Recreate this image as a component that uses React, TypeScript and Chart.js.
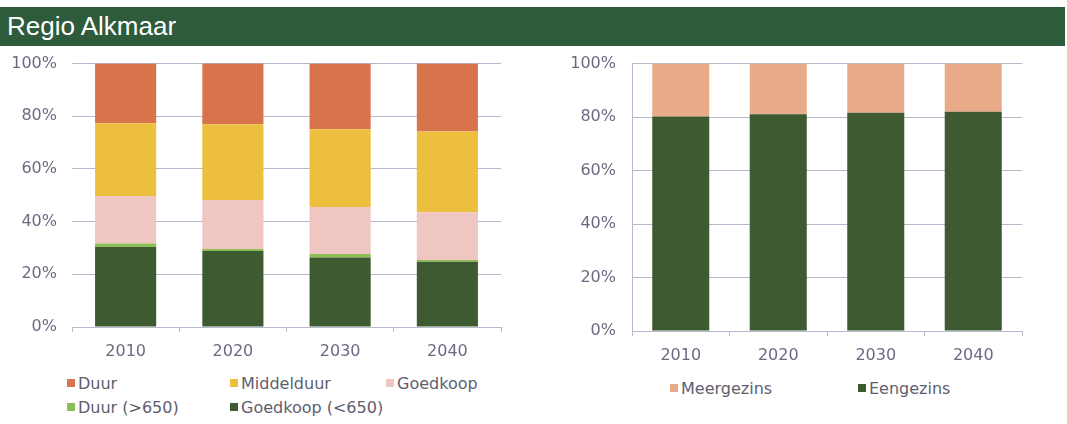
import React, { useEffect, useRef } from "react";
import { Chart, registerables } from "chart.js";

Chart.register(...registerables);

const years = ["2010", "2020", "2030", "2040"];
const yTicks = [0, 20, 40, 60, 80, 100];

// Left chart (stacked from bottom to top)
const goedkoopOnder650 = [30.4, 28.9, 26.4, 24.8];
const duurBoven650 = [1.3, 0.7, 1.3, 0.6];
const goedkoop = [18.0, 18.6, 17.9, 18.2];
const middelduur = [27.7, 28.8, 29.5, 30.6];
const duur = [22.6, 23.1, 24.9, 25.8];

// Right chart
const eengezins = [80.2, 81.1, 81.6, 82.0];
const meergezins = [19.8, 18.9, 18.4, 18.0];

const C = {
  duur: "#d8744c",
  middelduur: "#ecbf3e",
  goedkoop: "#f0c6c2",
  duurBoven: "#8cbf56",
  goedkoopOnder: "#3e5a31",
  meer: "#e9ab8a",
  een: "#3e5a31",
};

const FONT = "'DejaVu Sans', sans-serif";
const GRID = "#b6b8cc";
const TICKC = "#6c6a82";

function makeOptions(opts: {
  yWidth: number;
  padRight: number;
  padTop: number;
  xHeight: number;
  yBorder: boolean;
  yPad: number;
  barPct: number;
}) {
  return {
    responsive: false,
    animation: false as const,
    maintainAspectRatio: false,
    layout: { padding: { top: opts.padTop, right: opts.padRight, bottom: 0, left: 0 } },
    plugins: { legend: { display: false }, tooltip: { enabled: false }, title: { display: false } },
    datasets: { bar: { categoryPercentage: 1, barPercentage: opts.barPct } },
    scales: {
      x: {
        stacked: true,
        offset: true,
        afterFit: (s: any) => {
          s.height = opts.xHeight;
        },
        grid: {
          display: true,
          offset: true,
          drawOnChartArea: false,
          drawTicks: true,
          tickLength: 5,
          color: GRID,
        },
        border: { display: true, color: GRID, width: 1 },
        ticks: {
          color: TICKC,
          font: { family: FONT, size: 16 },
          padding: 10,
          maxRotation: 0,
        },
      },
      y: {
        stacked: true,
        min: 0,
        max: 100,
        afterFit: (s: any) => {
          s.width = opts.yWidth;
        },
        afterBuildTicks: (s: any) => {
          s.ticks = yTicks.map((v) => ({ value: v }));
        },
        grid: { color: GRID, drawTicks: false, lineWidth: 1 },
        border: { display: opts.yBorder, color: GRID },
        ticks: {
          color: TICKC,
          font: { family: FONT, size: 16 },
          padding: opts.yPad,
          callback: (v: any) => v + "%",
        },
      },
    },
  };
}

function LeftChart() {
  const ref = useRef<HTMLCanvasElement>(null);
  useEffect(() => {
    const chart = new Chart(ref.current!, {
      type: "bar",
      data: {
        labels: years,
        datasets: [
          { label: "Goedkoop (<650)", data: goedkoopOnder650, backgroundColor: C.goedkoopOnder },
          { label: "Duur (>650)", data: duurBoven650, backgroundColor: C.duurBoven },
          { label: "Goedkoop", data: goedkoop, backgroundColor: C.goedkoop },
          { label: "Middelduur", data: middelduur, backgroundColor: C.middelduur },
          { label: "Duur", data: duur, backgroundColor: C.duur },
        ],
      },
      options: makeOptions({ yWidth: 72, padRight: 19, padTop: 4, xHeight: 43, yBorder: false, yPad: 15, barPct: 0.57 }) as any,
    });
    return () => chart.destroy();
  }, []);
  return (
    <canvas
      ref={ref}
      width={520}
      height={331}
      style={{ position: "absolute", left: 0, top: 39, width: 520, height: 331 }}
    />
  );
}

function RightChart() {
  const ref = useRef<HTMLCanvasElement>(null);
  useEffect(() => {
    const chart = new Chart(ref.current!, {
      type: "bar",
      data: {
        labels: years,
        datasets: [
          { label: "Eengezins", data: eengezins, backgroundColor: C.een },
          { label: "Meergezins", data: meergezins, backgroundColor: C.meer },
        ],
      },
      options: makeOptions({ yWidth: 102, padRight: 45, padTop: 1, xHeight: 39, yBorder: true, yPad: 16, barPct: 0.585 }) as any,
    });
    return () => chart.destroy();
  }, []);
  return (
    <canvas
      ref={ref}
      width={537}
      height={332}
      style={{ position: "absolute", left: 530, top: 38, width: 537, height: 332 }}
    />
  );
}

function LegendItem(props: { x: number; y: number; color: string; label: string }) {
  return (
    <div
      style={{
        position: "absolute",
        left: props.x,
        top: props.y - 11,
        height: 22,
        display: "flex",
        alignItems: "center",
        fontFamily: FONT,
        fontSize: 16,
        color: "#5e5e6e",
        whiteSpace: "nowrap",
      }}
    >
      <span
        style={{ display: "inline-block", width: 8, height: 8, background: props.color, marginRight: 3 }}
      />
      <span>{props.label}</span>
    </div>
  );
}

export default function App() {
  return (
    <div
      style={{
        position: "absolute",
        left: 0,
        top: 0,
        width: 1067,
        height: 424,
        background: "#ffffff",
        overflow: "hidden",
      }}
    >
      <div
        style={{
          position: "absolute",
          left: 0,
          top: 7,
          width: 1065,
          height: 39,
          background: "#2d5b3c",
          color: "#ffffff",
          fontFamily: "'Liberation Sans', Arial, sans-serif",
          fontSize: 26,
          lineHeight: "39px",
          paddingLeft: 7,
          boxSizing: "border-box",
        }}
      >
        Regio Alkmaar
      </div>
      <LeftChart />
      <RightChart />
      <LegendItem x={67} y={383} color={C.duur} label="Duur" />
      <LegendItem x={230} y={383} color={C.middelduur} label="Middelduur" />
      <LegendItem x={386} y={383} color={C.goedkoop} label="Goedkoop" />
      <LegendItem x={67} y={407} color={C.duurBoven} label="Duur (>650)" />
      <LegendItem x={230} y={407} color={C.goedkoopOnder} label="Goedkoop (<650)" />
      <LegendItem x={670} y={388} color={C.meer} label="Meergezins" />
      <LegendItem x={858} y={388} color={C.een} label="Eengezins" />
    </div>
  );
}
